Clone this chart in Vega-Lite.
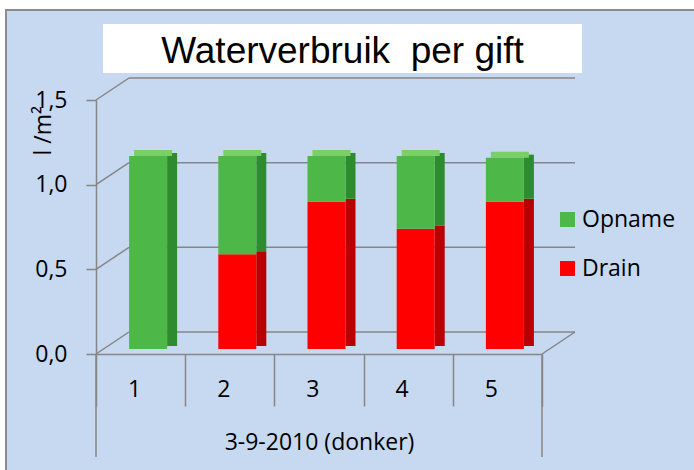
{
  "$schema": "https://vega.github.io/schema/vega-lite/v6.json",
  "width": 446,
  "height": 254,
  "autosize": {"type": "none"},
  "padding": {"left": 96, "top": 100, "right": 152, "bottom": 116},
  "background": "#ffffff",
  "config": {"view": {"stroke": null}},
  "datasets": {
    "bars": [
      {"g": "1", "series": "Drain", "v": 0},
      {"g": "1", "series": "Opname", "v": 1.14},
      {"g": "2", "series": "Drain", "v": 0.56},
      {"g": "2", "series": "Opname", "v": 0.58},
      {"g": "3", "series": "Drain", "v": 0.87},
      {"g": "3", "series": "Opname", "v": 0.27},
      {"g": "4", "series": "Drain", "v": 0.71},
      {"g": "4", "series": "Opname", "v": 0.43},
      {"g": "5", "series": "Drain", "v": 0.87},
      {"g": "5", "series": "Opname", "v": 0.26}
    ],
    "grid": [{"v": 0}, {"v": 0.5}, {"v": 1}, {"v": 1.5}],
    "one": [{}]
  },
  "layer": [
    {
      "data": {"name": "one"},
      "mark": {"type": "rect", "fill": "#C6D9F0", "stroke": "#8C8C8C", "strokeWidth": 2, "xOffset": -90, "x2Offset": 200, "yOffset": -90, "y2Offset": 200},
      "encoding": {
        "x": {"datum": "1", "bandPosition": 0},
        "x2": {"datum": "5", "bandPosition": 1},
        "y": {"datum": 1.5},
        "y2": {"datum": 0}
      }
    },
    {
      "data": {"name": "grid"},
      "mark": {"type": "rule", "color": "#868686", "strokeWidth": 1.5, "xOffset": 33, "x2Offset": 33, "yOffset": -22},
      "encoding": {
        "x": {"datum": "1", "bandPosition": 0},
        "x2": {"datum": "5", "bandPosition": 1},
        "y": {"field": "v", "type": "quantitative"}
      }
    },
    {
      "data": {"name": "grid"},
      "mark": {"type": "rule", "color": "#868686", "strokeWidth": 1.5, "x2Offset": 33, "y2Offset": -22},
      "encoding": {
        "x": {"datum": "1", "bandPosition": 0},
        "x2": {"datum": "1", "bandPosition": 0},
        "y": {"field": "v", "type": "quantitative"},
        "y2": {"field": "v"}
      }
    },
    {
      "data": {"name": "one"},
      "mark": {"type": "rule", "color": "#868686", "strokeWidth": 1.5, "x2Offset": 33, "y2Offset": -22},
      "encoding": {
        "x": {"datum": "5", "bandPosition": 1},
        "x2": {"datum": "5", "bandPosition": 1},
        "y": {"datum": 0},
        "y2": {"datum": 0}
      }
    },
    {
      "data": {"name": "bars"},
      "mark": {"type": "bar", "width": 10, "xOffset": 31.5, "yOffset": -8, "y2Offset": -8},
      "encoding": {
        "x": {"field": "g", "type": "nominal"},
        "y": {"field": "v", "type": "quantitative", "stack": "zero"},
        "detail": {"field": "series"},
        "order": {"field": "series", "sort": "ascending"},
        "fill": {"condition": {"test": "datum.series === 'Drain'", "value": "#B80000"}, "value": "#2E8B2E"}
      }
    },
    {
      "data": {"name": "bars"},
      "transform": [{"aggregate": [{"op": "sum", "field": "v", "as": "total"}], "groupby": ["g"]}],
      "mark": {"type": "tick", "orient": "horizontal", "size": 38, "thickness": 6, "xOffset": 12.5, "yOffset": -8, "color": "#7ACF66", "opacity": 1},
      "encoding": {
        "x": {"field": "g", "type": "nominal"},
        "y": {"field": "total", "type": "quantitative"}
      }
    },
    {
      "data": {"name": "bars"},
      "mark": {"type": "bar", "width": {"band": 0.426}, "xOffset": 7.5, "yOffset": -5, "y2Offset": -5},
      "encoding": {
        "x": {
          "field": "g", "type": "nominal",
          "scale": {"domain": ["1", "2", "3", "4", "5"], "paddingInner": 0, "paddingOuter": 0},
          "axis": {
            "zindex": 1,
            "title": "3-9-2010 (donker)", "labelAngle": 0, "tickBand": "extent", "tickSize": 52,
            "tickColor": "#868686", "tickWidth": 1.5, "domainColor": "#868686", "domainWidth": 1.5,
            "labelFont": "Open Sans", "labelFontSize": 23, "labelColor": "#000000",
            "labelBaseline": "alphabetic", "labelPadding": -9.5,
            "titleFont": "Open Sans", "titleFontSize": 23, "titleFontWeight": "normal", "titleColor": "#000000",
            "titleBaseline": "alphabetic", "titleY": 95
          }
        },
        "y": {
          "field": "v", "type": "quantitative", "stack": "zero",
          "scale": {"domain": [0, 1.5], "nice": false},
          "axis": {
            "zindex": 1,
            "values": [0, 0.5, 1, 1.5], "grid": false,
            "labelExpr": "replace(format(datum.value, '.1f'), '.', ',')",
            "labelFont": "Open Sans", "labelFontSize": 23, "labelColor": "#000000", "labelPadding": 19,
            "tickSize": 10, "tickColor": "#868686", "tickWidth": 1.5, "domainColor": "#868686", "domainWidth": 1.5,
            "title": "l /m²", "titleAngle": -90, "titleAlign": "left", "titleBaseline": "alphabetic",
            "titleX": -46, "titleY": 55, "titleFont": "Open Sans", "titleFontSize": 23, "titleFontWeight": "normal", "titleColor": "#000000"
          }
        },
        "order": {"field": "series", "sort": "ascending"},
        "color": {
          "field": "series", "type": "nominal",
          "scale": {"domain": ["Opname", "Drain"], "range": ["#4DB848", "#FF0000"]},
          "legend": {
            "title": null, "orient": "none", "legendX": 460, "legendY": 108,
            "symbolType": "square", "symbolSize": 225, "symbolStrokeWidth": 0,
            "labelFont": "Open Sans", "labelFontSize": 23, "labelColor": "#000000",
            "rowPadding": 25, "labelOffset": 3, "padding": 0
          }
        }
      }
    },
    {
      "data": {"name": "one"},
      "mark": {"type": "rule", "color": "#868686", "strokeWidth": 1.5, "y2Offset": 103},
      "encoding": {
        "x": {"datum": "1", "bandPosition": 0},
        "y": {"datum": 0},
        "y2": {"datum": 0}
      }
    },
    {
      "data": {"name": "one"},
      "mark": {"type": "rule", "color": "#868686", "strokeWidth": 1.5, "y2Offset": 103},
      "encoding": {
        "x": {"datum": "5", "bandPosition": 1},
        "y": {"datum": 0},
        "y2": {"datum": 0}
      }
    },
    {
      "data": {"name": "one"},
      "mark": {"type": "rect", "fill": "#ffffff", "xOffset": 7, "x2Offset": 40, "yOffset": -76, "y2Offset": -27},
      "encoding": {
        "x": {"datum": "1", "bandPosition": 0},
        "x2": {"datum": "5", "bandPosition": 1},
        "y": {"datum": 1.5},
        "y2": {"datum": 1.5}
      }
    },
    {
      "data": {"name": "one"},
      "mark": {"type": "text", "text": "Waterverbruik \u00a0per gift", "font": "Liberation Sans", "fontSize": 37, "align": "center", "baseline": "alphabetic", "xOffset": 23.5, "yOffset": -37.5, "color": "#000000"},
      "encoding": {
        "x": {"datum": "3", "bandPosition": 0.5},
        "y": {"datum": 1.5}
      }
    }
  ]
}
